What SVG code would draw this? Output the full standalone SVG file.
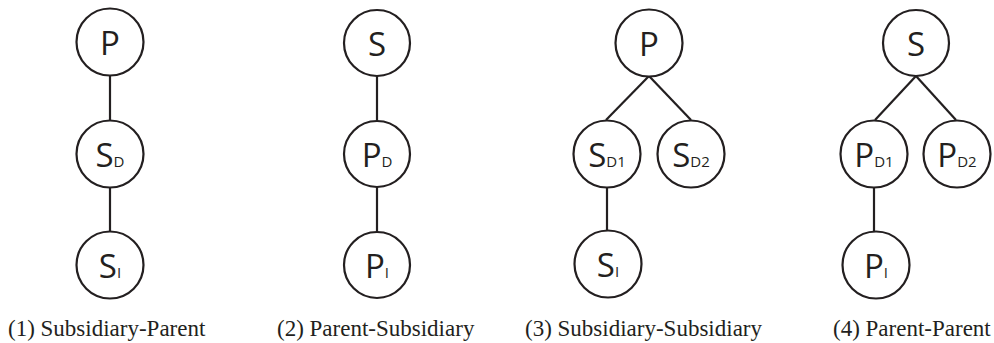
<svg xmlns="http://www.w3.org/2000/svg" width="994" height="343" viewBox="0 0 994 343">
<style>
.n circle{fill:#fff;stroke:#231f20;stroke-width:2.2}
.n text{font-family:"Open Sans","DejaVu Sans",sans-serif;font-size:33px;fill:#231f20;text-anchor:middle}
.n tspan{font-size:15px}
.c line{stroke:#231f20;stroke-width:2.2}
.cap{font-family:"Liberation Serif","Times New Roman",serif;font-size:23px;fill:#231f20}
</style>
<rect width="994" height="343" fill="#fff"/>
<g class="c" id="connectors">
<line x1="110" y1="76" x2="110" y2="121"/>
<line x1="110" y1="187" x2="110" y2="232"/>
<line x1="377" y1="76" x2="377" y2="121"/>
<line x1="377" y1="187" x2="377" y2="232"/>
<line x1="649" y1="76" x2="606" y2="120"/>
<line x1="649" y1="76" x2="691" y2="120"/>
<line x1="607" y1="187" x2="607" y2="231"/>
<line x1="916" y1="76" x2="875" y2="120"/>
<line x1="916" y1="76" x2="956" y2="120"/>
<line x1="874" y1="187" x2="874" y2="232"/>
</g>
<g class="n" id="c1-P"><circle cx="110" cy="42" r="33.5"/><text x="110" y="55">P</text></g>
<g class="n" id="c1-SD"><circle cx="110" cy="154" r="33.5"/><text x="110" y="167">S<tspan>D</tspan></text></g>
<g class="n" id="c1-SI"><circle cx="110" cy="265" r="33.5"/><text x="110" y="278">S<tspan>I</tspan></text></g>
<g class="n" id="c2-S"><circle cx="377" cy="43" r="33"/><text x="377" y="56">S</text></g>
<g class="n" id="c2-PD"><circle cx="377" cy="154" r="33"/><text x="377" y="167">P<tspan>D</tspan></text></g>
<g class="n" id="c2-PI"><circle cx="377" cy="265" r="33"/><text x="377" y="278">P<tspan>I</tspan></text></g>
<g class="n" id="c3-P"><circle cx="649" cy="43" r="33.5"/><text x="649" y="56">P</text></g>
<g class="n" id="c3-SD1"><circle cx="607" cy="154" r="33.5"/><text x="607" y="167">S<tspan>D1</tspan></text></g>
<g class="n" id="c3-SD2"><circle cx="691" cy="154" r="33.5"/><text x="691" y="167">S<tspan>D2</tspan></text></g>
<g class="n" id="c3-SI"><circle cx="608" cy="264" r="33.5"/><text x="608" y="277">S<tspan>I</tspan></text></g>
<g class="n" id="c4-S"><circle cx="916" cy="43" r="33"/><text x="916" y="56">S</text></g>
<g class="n" id="c4-PD1"><circle cx="874" cy="154" r="33.5"/><text x="874" y="167">P<tspan>D1</tspan></text></g>
<g class="n" id="c4-PD2"><circle cx="957" cy="154" r="33.5"/><text x="957" y="167">P<tspan>D2</tspan></text></g>
<g class="n" id="c4-PI"><circle cx="876" cy="265" r="33.5"/><text x="876" y="278">P<tspan>I</tspan></text></g>
<g id="captions">
<text class="cap" x="8" y="336">(1) Subsidiary-Parent</text>
<text class="cap" x="277" y="336">(2) Parent-Subsidiary</text>
<text class="cap" x="525" y="336">(3) Subsidiary-Subsidiary</text>
<text class="cap" x="833" y="336">(4) Parent-Parent</text>
</g>
</svg>
